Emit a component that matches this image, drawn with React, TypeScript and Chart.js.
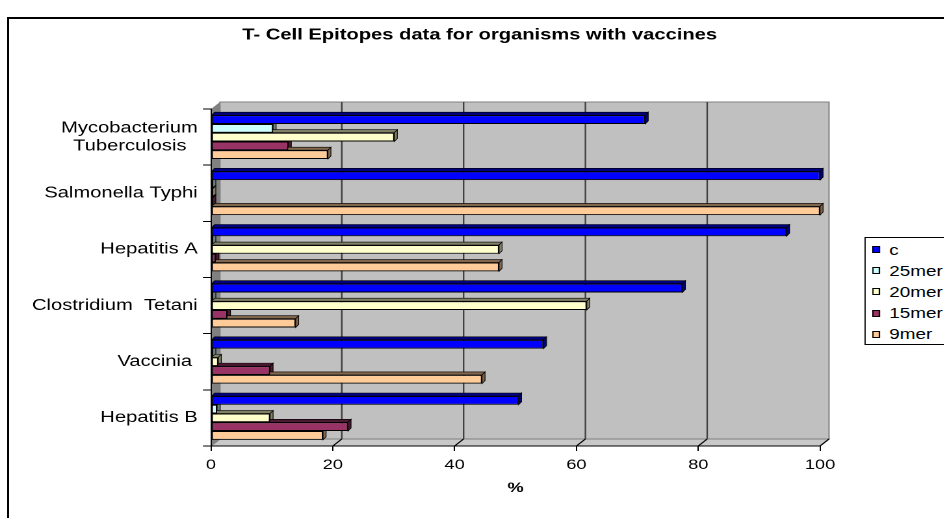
import React, { useEffect, useRef } from "react";
import { Chart, registerables } from "chart.js";
Chart.register(...registerables);

// ---- data ----
const organisms: (string | string[])[] = [
  ["Mycobacterium", "Tuberculosis  "],
  "Salmonella Typhi",
  "Hepatitis A",
  "Clostridium  Tetani",
  "Vaccinia ",
  "Hepatitis B",
];
const seriesNames = ["c", "25mer", "20mer", "15mer", "9mer"];
const cValues = [71.3, 100, 94.5, 77.4, 54.6, 50.5];
const mer25Values = [10.2, 0.3, 0.3, 0.3, 0.3, 1.0];
const mer20Values = [30.1, 0.3, 47.3, 61.7, 1.2, 9.7];
const mer15Values = [12.7, 0.3, 0.8, 2.7, 9.7, 22.5];
const mer9Values = [19.2, 100, 47.3, 13.9, 44.5, 18.4];
const xTicks = [0, 20, 40, 60, 80, 100];
const chartTitle = "T- Cell Epitopes data for organisms with vaccines";
const xTitle = "%";

// ---- styles ----
const fills = ["#0000FF", "#CCFFFF", "#FFFFCC", "#993366", "#FFCC99"];
const shades = ["#000080", "#668080", "#808066", "#4C1933", "#80664C"];
const FONT = "'Liberation Sans', Arial, sans-serif";
const S = 1.3; // horizontal stretch of the original picture
const W = 738;
const H = 518;
const DX = 6.9;
const DY = 7;
const BAR_DY = 3;

const backdrop = {
  id: "backdrop3d",
  beforeDraw(chart: any) {
    const { ctx, chartArea: ca, scales } = chart;
    const x = scales.x;
    ctx.save();
    ctx.fillStyle = "#C0C0C0";
    ctx.fillRect(ca.left + DX, ca.top - DY, ca.right - ca.left, ca.bottom - ca.top);
    ctx.strokeStyle = "#808080";
    ctx.lineWidth = 1;
    ctx.strokeRect(ca.left + DX, ca.top - DY, ca.right - ca.left, ca.bottom - ca.top);
    ctx.beginPath();
    ctx.moveTo(ca.left, ca.top);
    ctx.lineTo(ca.left + DX, ca.top - DY);
    ctx.lineTo(ca.left + DX, ca.bottom - DY);
    ctx.lineTo(ca.left, ca.bottom);
    ctx.closePath();
    ctx.fillStyle = "#808080";
    ctx.fill();
    ctx.beginPath();
    ctx.moveTo(ca.left, ca.bottom);
    ctx.lineTo(ca.left + DX, ca.bottom - DY);
    ctx.lineTo(ca.right + DX, ca.bottom - DY);
    ctx.lineTo(ca.right, ca.bottom);
    ctx.closePath();
    ctx.fillStyle = "#C8C8C8";
    ctx.fill();
    ctx.strokeStyle = "#808080";
    ctx.stroke();
    xTicks.forEach((v, i) => {
      const px = x.getPixelForValue(v);
      if (i > 0 && i < xTicks.length - 1) {
        ctx.strokeStyle = "#404040";
        ctx.lineWidth = 1.2;
        ctx.beginPath();
        ctx.moveTo(px + DX, ca.top - DY);
        ctx.lineTo(px + DX, ca.bottom - DY);
        ctx.stroke();
      }
      if (i > 0) {
        ctx.strokeStyle = "#000";
        ctx.lineWidth = 1;
        ctx.beginPath();
        ctx.moveTo(px, ca.bottom);
        ctx.lineTo(px + DX, ca.bottom - DY);
        ctx.stroke();
      }
    });
    ctx.restore();
  },
};

// top and side faces, drawn before the front faces so that bars above hide them
const bars3d = {
  id: "bars3d",
  beforeDatasetsDraw(chart: any) {
    const { ctx } = chart;
    ctx.save();
    chart.data.datasets.forEach((_ds: any, di: number) => {
      const meta = chart.getDatasetMeta(di);
      const dy = BAR_DY;
      const dx = dy / S;
      meta.data.forEach((el: any) => {
        const { x, y, base, height } = el.getProps(["x", "y", "base", "height"], true);
        const top = y - height / 2;
        const bottom = y + height / 2;
        ctx.fillStyle = shades[di];
        ctx.strokeStyle = "#000";
        ctx.lineWidth = 0.6;
        ctx.beginPath();
        ctx.moveTo(base, top);
        ctx.lineTo(base + dx, top - dy);
        ctx.lineTo(x + dx, top - dy);
        ctx.lineTo(x, top);
        ctx.closePath();
        ctx.fill();
        ctx.stroke();
        ctx.beginPath();
        ctx.moveTo(x, top);
        ctx.lineTo(x + dx, top - dy);
        ctx.lineTo(x + dx, bottom - dy);
        ctx.lineTo(x, bottom);
        ctx.closePath();
        ctx.fill();
        ctx.stroke();
      });
    });
    ctx.restore();
  },
};

export default function App() {
  const ref = useRef<HTMLCanvasElement>(null);
  useEffect(() => {
    document.body.style.margin = "0";
    const values = [cValues, mer25Values, mer20Values, mer15Values, mer9Values];
    const chart = new Chart(ref.current as HTMLCanvasElement, {
      type: "bar",
      data: {
        labels: organisms as any,
        datasets: seriesNames.map((name, i) => ({
          label: name,
          data: values[i],
          backgroundColor: fills[i],
          borderColor: "#000",
          borderWidth: 1,
          borderSkipped: false,
          barPercentage: 1,
          categoryPercentage: 0.78,
        })) as any,
      },
      options: {
        indexAxis: "y",
        responsive: false,
        devicePixelRatio: 2,
        animation: false,
        layout: { padding: { left: 0, right: 0, top: 0, bottom: 21.6 } },
        plugins: {
          legend: { display: false },
          tooltip: { enabled: false },
          title: {
            display: true,
            text: chartTitle,
            color: "#000",
            font: { family: FONT, size: 15.5, weight: "bold" },
            padding: { top: 26, bottom: 64.4 },
          },
        },
        scales: {
          x: {
            type: "linear",
            min: 0,
            max: 100,
            afterBuildTicks: (s: any) => {
              s.ticks = xTicks.map((v) => ({ value: v }));
            },
            grid: { drawOnChartArea: false, drawTicks: true, tickLength: 5, color: "#000" },
            border: { display: true, color: "#000", width: 1 },
            ticks: { color: "#000", font: { family: FONT, size: 14 }, padding: 5.6 },
            title: {
              display: true,
              text: xTitle,
              color: "#000",
              font: { family: FONT, size: 14, weight: "bold" },
              padding: { top: 0.6, bottom: 0 },
            },
          },
          y: {
            type: "category",
            afterFit: (s: any) => {
              s.width = 162.3;
            },
            grid: { drawOnChartArea: false, drawTicks: true, tickLength: 6.2, color: "#000", offset: true },
            border: { display: true, color: "#000", width: 1 },
            ticks: {
              color: "#000",
              font: { family: FONT, size: 15.5, lineHeight: 1.16 },
              padding: 4,
              autoSkip: false,
            },
          },
          yRight: {
            axis: "y",
            type: "linear",
            position: "right",
            display: true,
            grid: { display: false },
            border: { display: false },
            ticks: { display: false },
            afterFit: (s: any) => {
              s.width = 107.2;
            },
          },
        },
      } as any,
      plugins: [backdrop, bars3d],
    });
    return () => chart.destroy();
  }, []);

  return (
    <div
      style={{
        position: "fixed",
        left: 0,
        top: 0,
        width: 944,
        height: H,
        overflow: "hidden",
        background: "#fff",
      }}
    >
      <div
        style={{
          position: "absolute",
          left: 7,
          top: 17,
          width: 2000,
          height: 2000,
          border: "2px solid #000",
          boxSizing: "border-box",
        }}
      />
      <div
        style={{
          position: "absolute",
          left: 0,
          top: 0,
          width: W,
          height: H,
          transform: `scaleX(${S})`,
          transformOrigin: "0 0",
        }}
      >
        <canvas ref={ref} width={W} height={H} style={{ display: "block", width: W, height: H }} />
        <div
          style={{
            position: "absolute",
            left: 664.6,
            top: 237,
            width: 200,
            height: 108,
            border: "1px solid #000",
            background: "#fff",
            boxSizing: "border-box",
            fontFamily: FONT,
            fontSize: 14.5,
            color: "#000",
          }}
        >
          {seriesNames.map((name, i) => (
            <div key={name}>
              <div
                style={{
                  position: "absolute",
                  left: 5,
                  top: 8 + i * 21.2,
                  width: 6,
                  height: 7,
                  background: fills[i],
                  border: "1px solid #000",
                  boxSizing: "border-box",
                }}
              />
              <div
                style={{
                  position: "absolute",
                  left: 18.5,
                  top: 2.5 + i * 21.2,
                  lineHeight: "18px",
                  whiteSpace: "nowrap",
                }}
              >
                {name}
              </div>
            </div>
          ))}
        </div>
      </div>
    </div>
  );
}
